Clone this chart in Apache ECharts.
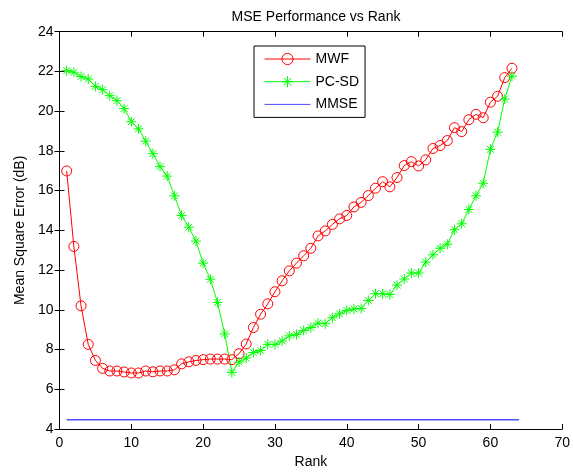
<!DOCTYPE html>
<html>
<head>
<meta charset="utf-8">
<script src="https://cdn.jsdelivr.net/npm/echarts@6/dist/echarts.min.js"></script>
<style>
html,body{margin:0;padding:0;background:#fff;}
#chart{width:573px;height:474px;}
</style>
</head>
<body>
<div id="chart"></div>
<script>
const ranks = [1,2,3,4,5,6,7,8,9,10,11,12,13,14,15,16,17,18,19,20,21,22,23,24,25,26,27,28,29,30,31,32,33,34,35,36,37,38,39,40,41,42,43,44,45,46,47,48,49,50,51,52,53,54,55,56,57,58,59,60,61,62,63];
const mwf = [16.99,13.19,10.2,8.26,7.45,7.05,6.92,6.92,6.87,6.82,6.82,6.92,6.88,6.92,6.92,6.98,7.28,7.38,7.45,7.49,7.52,7.52,7.52,7.49,7.79,8.28,9.11,9.78,10.30,10.91,11.46,11.96,12.35,12.72,13.10,13.72,13.97,14.30,14.58,14.75,15.18,15.41,15.75,16.12,16.45,16.19,16.66,17.26,17.46,17.24,17.55,18.12,18.27,18.52,19.17,18.97,19.57,19.84,19.67,20.45,20.75,21.69,22.16];
const pcsd = [22.04,21.96,21.74,21.62,21.25,21.08,20.78,20.53,20.13,19.47,19.11,18.49,17.86,17.21,16.73,15.74,14.75,14.16,13.46,12.35,11.54,10.37,8.79,6.85,7.37,7.57,7.85,7.95,8.26,8.26,8.43,8.69,8.76,8.96,9.11,9.33,9.30,9.60,9.80,9.97,10.04,10.07,10.47,10.81,10.81,10.77,11.24,11.55,11.85,11.85,12.40,12.77,13.10,13.30,14.03,14.33,15.05,15.74,16.37,18.08,18.94,20.61,21.76];
const mmseX = [1, 64];
const mmseY = [4.47, 4.47];
const xTicks = [0,10,20,30,40,50,60,70];
const yTicks = [4,6,8,10,12,14,16,18,20,22,24];

const font = 'Liberation Sans, Arial, Helvetica, sans-serif';
const pair = (xs, ys) => xs.map((x, i) => [x, ys[i]]);
const star = 'path://M0,5 L10,5 M5,0 L5,10 M1.6,1.6 L8.4,8.4 M8.4,1.6 L1.6,8.4';

const chart = echarts.init(document.getElementById('chart'), null, {renderer: 'canvas'});
const axisCommon = {
  type: 'value',
  axisLine: {show: true, lineStyle: {color: '#000', width: 1}},
  axisTick: {show: true, inside: true, length: 5, lineStyle: {color: '#000'}},
  splitLine: {show: false},
};
chart.setOption({
  animation: false,
  backgroundColor: '#fff',
  title: {
    text: 'MSE Performance vs Rank', left: 311, top: 5, textAlign: 'center',
    textStyle: {fontFamily: font, fontSize: 14, fontWeight: 'normal', color: '#000'}
  },
  grid: {left: 59.5, right: 9.5, top: 31.7, bottom: 44.7, containLabel: false},
  legend: {
    orient: 'vertical', left: 254, top: 46,
    padding: [6, 6, 6, 10], itemGap: 8.7, itemWidth: 46, itemHeight: 14,
    borderColor: '#000', borderWidth: 1, backgroundColor: '#fff',
    textStyle: {fontFamily: font, fontSize: 14, color: '#000'},
    lineStyle: {width: 1},
    itemStyle: {borderWidth: 1},
    data: [
      {name: 'MWF'},
      {name: 'PC-SD'},
      {name: 'MMSE', itemStyle: {opacity: 0}}
    ]
  },
  xAxis: [
    Object.assign({}, axisCommon, {
      position: 'bottom', min: xTicks[0], max: xTicks[xTicks.length-1], interval: 10,
      name: 'Rank', nameLocation: 'middle', nameGap: 26,
      nameTextStyle: {fontFamily: font, fontSize: 14, color: '#000'},
      axisLabel: {fontFamily: font, fontSize: 14, color: '#000', margin: 7}
    }),
    Object.assign({}, axisCommon, {
      position: 'top', min: xTicks[0], max: xTicks[xTicks.length-1], interval: 10,
      axisLabel: {show: false}
    })
  ],
  yAxis: [
    Object.assign({}, axisCommon, {
      position: 'left', min: yTicks[0], max: yTicks[yTicks.length-1], interval: 2,
      name: 'Mean Square Error (dB)', nameLocation: 'middle', nameGap: 30,
      nameTextStyle: {fontFamily: font, fontSize: 14, color: '#000'},
      axisLabel: {fontFamily: font, fontSize: 14, color: '#000', margin: 6}
    }),
    Object.assign({}, axisCommon, {
      position: 'right', min: yTicks[0], max: yTicks[yTicks.length-1], interval: 2,
      axisLabel: {show: false}
    })
  ],
  series: [
    {
      name: 'MWF', type: 'line', data: pair(ranks, mwf),
      symbol: 'circle', symbolSize: 10, showAllSymbol: true,
      lineStyle: {color: '#ff0000', width: 1},
      itemStyle: {color: 'rgba(0,0,0,0)', borderColor: '#ff0000', borderWidth: 1},
      emphasis: {disabled: true}
    },
    {
      name: 'PC-SD', type: 'line', data: pair(ranks, pcsd),
      symbol: star, symbolSize: 10, showAllSymbol: true,
      lineStyle: {color: '#00ff00', width: 1},
      itemStyle: {color: '#00ff00', borderColor: '#00ff00', borderWidth: 1},
      emphasis: {disabled: true}
    },
    {
      name: 'MMSE', type: 'line', data: pair(mmseX, mmseY),
      symbol: 'none',
      lineStyle: {color: '#4d4dff', width: 1.5},
      itemStyle: {color: '#4d4dff'},
      emphasis: {disabled: true}
    }
  ]
});
</script>
</body>
</html>
